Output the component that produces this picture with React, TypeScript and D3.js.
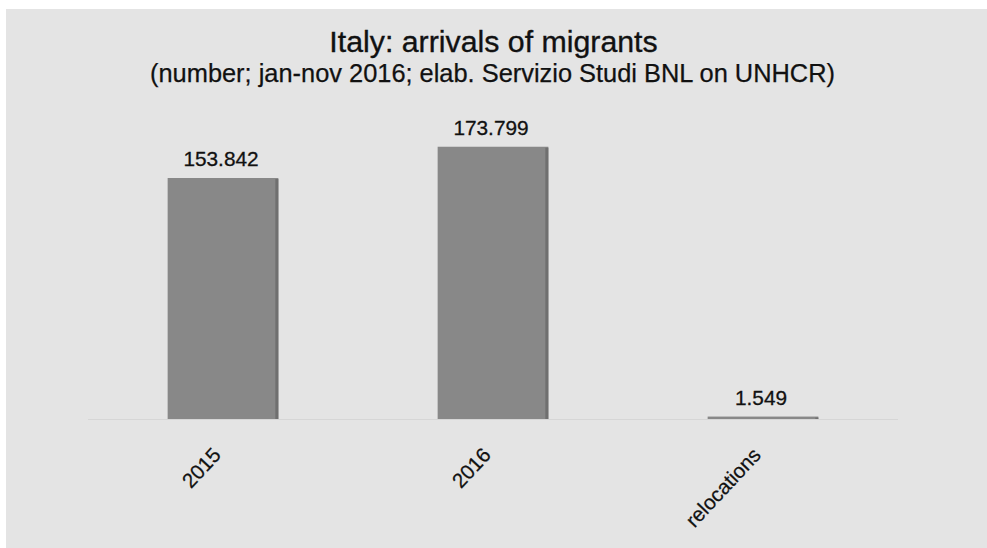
import React from "react";
import * as d3 from "d3";

const categories = ["2015", "2016", "relocations"];
const values = [153842, 173799, 1549];
const valueLabels = ["153.842", "173.799", "1.549"];
const title = "Italy: arrivals of migrants";
const subtitle = "(number; jan-nov 2016; elab. Servizio Studi BNL on UNHCR)";

const W = 987;
const H = 548;
const FONT = "'Liberation Sans', Arial, Helvetica, sans-serif";

export default function App() {
  const x = d3
    .scaleBand<string>()
    .domain(categories)
    .range([88, 898])
    .paddingInner(0.59)
    .paddingOuter(0.295);
  const y = d3.scaleLinear().domain([0, 200000]).range([419, 105.7]);
  const bw = x.bandwidth();

  return (
    <div style={{ position: "absolute", left: 0, top: 0 }}>
      <svg width={W} height={H} style={{ display: "block" }}>
        <rect x={0} y={0} width={W} height={H} fill="#ffffff" />
        <rect x={6} y={9} width={W - 6} height={H - 9} fill="#e4e4e4" />
        <text x={493.5} y={52} textAnchor="middle" fontFamily={FONT} fontSize={30.3} fill="#111" stroke="#111" strokeWidth={0.35}>
          {title}
        </text>
        <text x={492.5} y={82} textAnchor="middle" fontFamily={FONT} fontSize={25.4} fill="#111" stroke="#111" strokeWidth={0.25}>
          {subtitle}
        </text>
        <line x1={88} x2={898} y1={419.5} y2={419.5} stroke="#d6d6d6" strokeWidth={1} />
        {categories.map((c, i) => {
          const x0 = x(c)!;
          const y0 = y(values[i]);
          const h = Math.max(y(0) - y0, 2);
          const top = y(0) - h;
          return (
            <g key={c}>
              <rect x={x0} y={top} width={bw} height={h} fill="#888888" />
              <rect x={x0 + bw - 3} y={top + 1} width={3} height={h - 1} fill="#6f6f6f" />
              <text
                x={x0 + bw / 2 - 2}
                y={top - 12}
                textAnchor="middle"
                fontFamily={FONT}
                fontSize={20.8}
                fill="#111"
                stroke="#111"
                strokeWidth={0.3}
              >
                {valueLabels[i]}
              </text>
              <text
                transform={`translate(${x0 + bw / 2 - 1},${456}) rotate(-47)`}
                textAnchor="end"
                fontFamily={FONT}
                fontSize={20.5}
                fill="#111"
                stroke="#111"
                strokeWidth={0.25}
              >
                {c}
              </text>
            </g>
          );
        })}
      </svg>
    </div>
  );
}
